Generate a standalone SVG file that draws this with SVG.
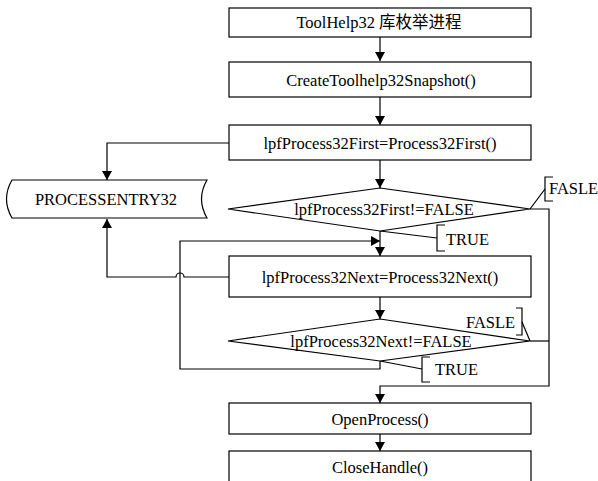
<svg xmlns="http://www.w3.org/2000/svg" width="598" height="481" viewBox="0 0 598 481">
<style>
.b{fill:#fff;stroke:#000;stroke-width:1.2}
.l{fill:none;stroke:#000;stroke-width:1.2}
.t{font-size:16.5px;fill:#000;text-anchor:middle;dominant-baseline:central}
.s{font-size:16.5px;fill:#000;dominant-baseline:central}
</style>
<defs>
<marker id="a" markerWidth="9" markerHeight="10" refX="9" refY="5" orient="auto" markerUnits="userSpaceOnUse">
<path d="M0,0 L9,5 L0,10 Z" fill="#000"/>
</marker>
</defs>
<rect width="598" height="481" fill="#fff"/>
<g id="connectors">
<path class="l" d="M380,37 V61" marker-end="url(#a)"/>
<path class="l" d="M380,97 V125" marker-end="url(#a)"/>
<path class="l" d="M380,160 V188" marker-end="url(#a)"/>
<path class="l" d="M229,143 H107 V180" marker-end="url(#a)"/>
<path class="l" d="M380,231 V256" marker-end="url(#a)"/>
<path class="l" d="M229,277 H184 A4,4 0 0 0 176,277 H107 V219" marker-end="url(#a)"/>
<path class="l" d="M380,297 V319" marker-end="url(#a)"/>
<path class="l" d="M380,361 V369 H180 V241 H380" marker-end="url(#a)"/>
<path class="l" d="M530,209 H549 V386 H380 V403" marker-end="url(#a)"/>
<path class="l" d="M530,341 H549"/>
<path class="l" d="M380,434 V451" marker-end="url(#a)"/>
<path class="l" d="M530,209 L545,189"/>
<path class="l" d="M553,177 H545 V201 H553"/>
<path class="l" d="M380,231 L437,238"/>
<path class="l" d="M445,225 H437 V251 H445"/>
<path class="l" d="M530,341 L522,322"/>
<path class="l" d="M516,308 H522 V335 H516"/>
<path class="l" d="M380,361 L422,369"/>
<path class="l" d="M430,357 H422 V382 H430"/>
</g>
<g font-family="Liberation Serif, Noto Sans CJK SC, serif">
<g id="n1"><rect class="b" x="229" y="8" width="302" height="29"/><text class="t" x="379" y="22.5">ToolHelp32 库枚举进程</text></g>
<g id="n2"><rect class="b" x="229" y="62" width="302" height="35"/><text class="t" x="381" y="80">CreateToolhelp32Snapshot()</text></g>
<g id="n3"><rect class="b" x="229" y="125" width="302" height="35"/><text class="t" x="380" y="143">lpfProcess32First=Process32First()</text></g>
<g id="n4"><path class="b" d="M12,180 H207 Q196,199 207,218 H12 Q1,199 12,180 Z"/><text class="t" x="106" y="199">PROCESSENTRY32</text></g>
<g id="n5"><path class="b" d="M380,188 L530,209 L380,231 L228,209 Z"/><text class="t" x="384" y="209">lpfProcess32First!=FALSE</text></g>
<g id="n6"><rect class="b" x="229" y="256" width="302" height="41"/><text class="t" x="380" y="277">lpfProcess32Next=Process32Next()</text></g>
<g id="n7"><path class="b" d="M380,319 L530,341 L380,361 L228,341 Z"/><text class="t" x="381" y="341">lpfProcess32Next!=FALSE</text></g>
<g id="n8"><rect class="b" x="229" y="403" width="302" height="31"/><text class="t" x="380" y="419">OpenProcess()</text></g>
<g id="n9"><rect class="b" x="229" y="451" width="302" height="40"/><text class="t" x="380" y="467">CloseHandle()</text></g>
<g id="labels">
<text class="s" x="549" y="188">FASLE</text>
<text class="s" x="446" y="239">TRUE</text>
<text class="s" x="466" y="322">FASLE</text>
<text class="s" x="435" y="369">TRUE</text>
</g>
</g>
</svg>
